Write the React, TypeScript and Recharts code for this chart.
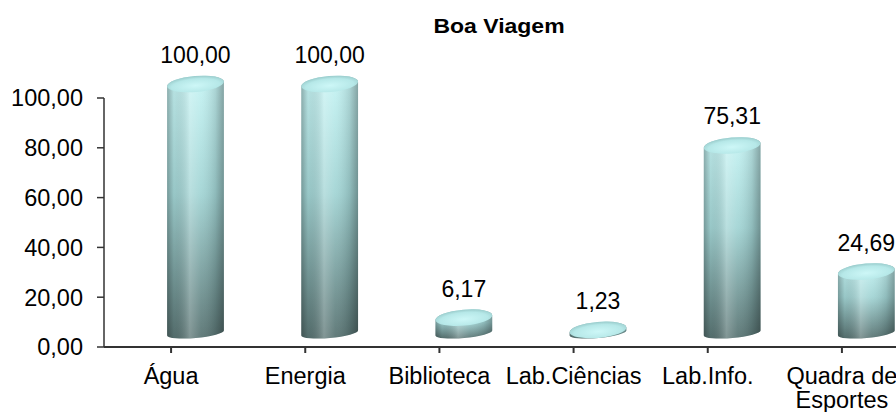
import { BarChart, Bar, XAxis, YAxis, LabelList, Text } from "recharts";

const categories = ["Água", "Energia", "Biblioteca", "Lab.Ciências", "Lab.Info.", "Quadra de Esportes"];
const percentages = [100, 100, 6.17, 1.23, 75.31, 24.69];
const yTicks = [0, 20, 40, 60, 80, 100];
const title = "Boa Viagem";

const data = categories.map((name, i) => ({ name, value: percentages[i] }));

const fmt = (v: number) => v.toFixed(2).replace(".", ",");

// 3d look: the cylinder sits a bit behind the axis plane
const DEPTH_X = 24;
const DEPTH_Y = -14;
const TILT = -5;
const FONT = "'Liberation Sans', Arial, sans-serif";

function ellipsePt(cx: number, cy: number, rx: number, ry: number, t: number) {
    const p = (TILT * Math.PI) / 180;
    return [
        cx + rx * Math.cos(t) * Math.cos(p) - ry * Math.sin(t) * Math.sin(p),
        cy + rx * Math.cos(t) * Math.sin(p) + ry * Math.sin(t) * Math.cos(p),
    ];
}

const Cylinder = (props: any) => {
    const { x, y, width, height, index } = props;
    if (x == null || y == null) return null;
    const rx = width / 2;
    const cx = x + rx + DEPTH_X;
    const topY = y + DEPTH_Y;
    const botY = y + height + DEPTH_Y;
    const ryTop = 8;
    const ryBot = 5;
    const [tlx, tly] = ellipsePt(cx, topY, rx, ryTop, Math.PI);
    const [trx, try_] = ellipsePt(cx, topY, rx, ryTop, 0);
    const [blx, bly] = ellipsePt(cx, botY, rx, ryBot, Math.PI);
    const [brx, bry] = ellipsePt(cx, botY, rx, ryBot, 0);
    const body = `M${tlx},${tly} L${blx},${bly} A${rx},${ryBot} ${TILT} 0 0 ${brx},${bry} L${trx},${try_} A${rx},${ryTop} ${TILT} 0 0 ${tlx},${tly} Z`;
    const v = `cyl-v-${index}`;
    const h = `cyl-h-${index}`;
    const t = `cyl-t-${index}`;
    return (
        <g>
            <defs>
                <linearGradient id={v} x1="0" y1="0" x2="0" y2="1">
                    <stop offset="0" stopColor="#c6f4f4" />
                    <stop offset="0.45" stopColor="#a2d4d4" />
                    <stop offset="1" stopColor="#587372" />
                </linearGradient>
                <linearGradient id={h} x1="0" y1="0" x2="1" y2="0">
                    <stop offset="0" stopColor="#000" stopOpacity="0.28" />
                    <stop offset="0.12" stopColor="#000" stopOpacity="0.06" />
                    <stop offset="0.4" stopColor="#fff" stopOpacity="0.25" />
                    <stop offset="0.6" stopColor="#fff" stopOpacity="0.06" />
                    <stop offset="0.85" stopColor="#000" stopOpacity="0.12" />
                    <stop offset="1" stopColor="#000" stopOpacity="0.32" />
                </linearGradient>
                <radialGradient id={t} cx="0.5" cy="0.6" r="0.6">
                    <stop offset="0" stopColor="#cdf7f7" />
                    <stop offset="0.7" stopColor="#b6e8e8" />
                    <stop offset="1" stopColor="#98caca" />
                </radialGradient>
            </defs>
            <path d={body} fill={`url(#${v})`} />
            <path d={body} fill={`url(#${h})`} />
            <ellipse
                cx={cx}
                cy={topY}
                rx={rx}
                ry={ryTop}
                transform={`rotate(${TILT} ${cx} ${topY})`}
                fill={`url(#${t})`}
            />
        </g>
    );
};

const ValueLabel = (props: any) => {
    const { x, y, width, value } = props;
    return (
        <text
            x={x + width / 2 + DEPTH_X}
            y={y - 35}
            textAnchor="middle"
            fontSize={23}
            fontFamily={FONT}
            fill="#000"
        >
            {fmt(Number(value))}
        </text>
    );
};

const CategoryTick = (props: any) => {
    const { x, y, payload } = props;
    return (
        <Text
            x={x}
            y={y + 12}
            width={128}
            lineHeight={24}
            textAnchor="middle"
            verticalAnchor="start"
            fontSize={23.5}
            fontFamily={FONT}
            style={{ fontSize: 23.5, fontFamily: FONT }}
            fill="#000"
        >
            {payload.value}
        </Text>
    );
};

export default function App() {
    return (
        <div
            style={{
                position: "fixed",
                left: 0,
                top: 0,
                width: 896,
                height: 412,
                overflow: "hidden",
                background: "#fff",
            }}
        >
            <svg width={896} height={50} style={{ position: "absolute", left: 0, top: 0 }}>
                <text
                    transform="translate(499,33) scale(1.15,1)"
                    textAnchor="middle"
                    fontSize={20}
                    fontWeight="bold"
                    fontFamily={FONT}
                    fill="#000"
                >
                    {title}
                </text>
            </svg>
            <BarChart
                width={930}
                height={412}
                data={data}
                margin={{ top: 98, right: 21, left: 0, bottom: 0 }}
            >
                <YAxis
                    width={104}
                    domain={[0, 100]}
                    ticks={yTicks}
                    tickFormatter={fmt}
                    axisLine={{ stroke: "#333", strokeWidth: 1.5 }}
                    tickLine={{ stroke: "#333", strokeWidth: 1.5 }}
                    tickSize={7}
                    tickMargin={14}
                    tick={{ fontSize: 23.5, fill: "#000", fontFamily: FONT }}
                />
                <XAxis
                    dataKey="name"
                    height={65}
                    interval={0}
                    tickSize={6}
                    axisLine={{ stroke: "#333", strokeWidth: 2 }}
                    tickLine={{ stroke: "#333", strokeWidth: 2 }}
                    tick={<CategoryTick />}
                />
                <Bar dataKey="value" barSize={57} shape={Cylinder} isAnimationActive={false}>
                    <LabelList dataKey="value" content={ValueLabel} />
                </Bar>
            </BarChart>
        </div>
    );
}
